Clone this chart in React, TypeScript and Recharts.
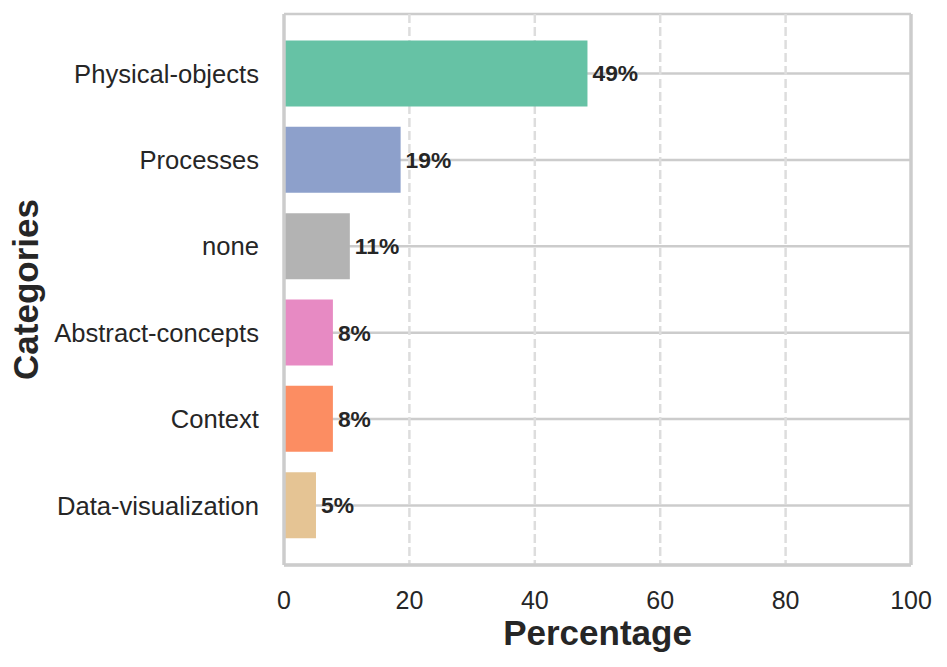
import React from 'react';
import { BarChart, Bar, XAxis, YAxis, CartesianGrid, Cell, LabelList, Label } from 'recharts';

const categories = ['Physical-objects', 'Processes', 'none', 'Abstract-concepts', 'Context', 'Data-visualization'];
const values = [48.4, 18.6, 10.5, 7.8, 7.8, 5.1];
const valueLabels = ['49%', '19%', '11%', '8%', '8%', '5%'];
const colors = ['#66c2a5', '#8da0cb', '#b3b3b3', '#e78ac3', '#fc8d62', '#e5c494'];
const xTicks = [0, 20, 40, 60, 80, 100];
const innerGridTicks = [20, 40, 60, 80];

const data = categories.map((name, i) => ({ name, value: values[i], label: valueLabels[i] }));

const FONT = '"Liberation Sans", Arial, sans-serif';
const TEXT = '#262626';
const FRAME = { stroke: '#cccccc', strokeWidth: 3.5 };

export default function App() {
  return (
    <div style={{ position: 'absolute', left: 0, top: 0, width: 947, height: 667, background: '#fff' }}>
      <BarChart
        width={947}
        height={667}
        data={data}
        layout="vertical"
        margin={{ top: 14, right: 35, bottom: 0, left: 0 }}
        style={{ fontFamily: FONT }}
      >
        <CartesianGrid horizontal vertical={false} stroke="#cccccc" strokeWidth={2.5} />
        <CartesianGrid
          horizontal={false}
          vertical
          verticalValues={innerGridTicks}
          stroke="#dddddd"
          strokeWidth={2.5}
          strokeDasharray="9 4"
        />
        <XAxis
          type="number"
          domain={[0, 100]}
          ticks={xTicks}
          height={102}
          tickLine={false}
          tickSize={0}
          tickMargin={26}
          axisLine={FRAME}
          tick={{ fill: TEXT, fontSize: 25, fontFamily: FONT }}
        >
          <Label
            content={(props: any) => {
              const vb = props.viewBox || {};
              return (
                <text
                  x={vb.x + vb.width / 2}
                  y={vb.y + 80}
                  textAnchor="middle"
                  fill={TEXT}
                  fontSize={35}
                  fontWeight="bold"
                  fontFamily={FONT}
                >
                  Percentage
                </text>
              );
            }}
          />
        </XAxis>
        <XAxis
          xAxisId="top"
          orientation="top"
          type="number"
          domain={[0, 100]}
          height={0}
          tick={false}
          tickLine={false}
          axisLine={FRAME}
        />
        <YAxis
          type="category"
          dataKey="name"
          width={284}
          padding={{ top: 16.4, bottom: 16.4 }}
          tickLine={false}
          tickSize={0}
          tickMargin={25}
          axisLine={FRAME}
          tick={{ fill: TEXT, fontSize: 25.6, fontFamily: FONT }}
        >
          <Label
            content={(props: any) => {
              const vb = props.viewBox || {};
              const cx = 38;
              const cy = vb.y + vb.height / 2;
              return (
                <text
                  x={cx}
                  y={cy}
                  transform={`rotate(-90, ${cx}, ${cy})`}
                  textAnchor="middle"
                  fill={TEXT}
                  fontSize={35}
                  fontWeight="bold"
                  fontFamily={FONT}
                >
                  Categories
                </text>
              );
            }}
          />
        </YAxis>
        <YAxis
          yAxisId="right"
          orientation="right"
          type="category"
          dataKey="name"
          width={1}
          tick={false}
          tickLine={false}
          axisLine={FRAME}
        />
        <Bar dataKey="value" barSize={66} isAnimationActive={false}>
          {data.map((d, i) => (
            <Cell key={d.name} fill={colors[i]} />
          ))}
          <LabelList
            dataKey="label"
            position="right"
            offset={5}
            fill={TEXT}
            fontSize={22.8}
            fontWeight="bold"
            fontFamily={FONT}
          />
        </Bar>
      </BarChart>
    </div>
  );
}
